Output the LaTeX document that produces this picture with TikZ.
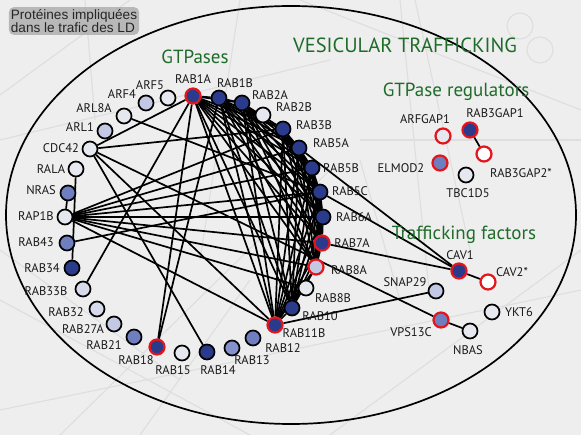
\documentclass[tikz,border=0pt]{standalone}
\usepackage{fontspec}
\setmainfont{PT Sans}
\newfontfamily\arialf{Liberation Sans}
\definecolor{cD}{HTML}{2B3B8C}
\definecolor{cM}{HTML}{6E7EBF}
\definecolor{cM2}{HTML}{8392CC}
\definecolor{cL}{HTML}{C3C9E5}
\definecolor{cL2}{HTML}{D6DAEB}
\definecolor{cW}{HTML}{E6E8F0}
\definecolor{cR}{HTML}{E3141B}
\definecolor{gtxt}{HTML}{1E6B2A}
\definecolor{bgc}{HTML}{EEEEEE}
\pgfdeclarelayer{back}
\pgfdeclarelayer{edges}
\pgfsetlayers{back,edges,main}
\begin{document}
\begin{tikzpicture}[x=1pt,y=-1pt,
 gn/.style={circle,draw=black,line width=1.7pt,minimum size=15pt,inner sep=0pt},
 rn/.style={gn,draw=cR,line width=2.2pt},
 lab/.style={font=\fontsize{12.5}{13}\selectfont,inner sep=0pt,text=black!90},
 ttl/.style={font=\fontsize{19}{21}\selectfont,text=gtxt,inner sep=0pt},
 ed/.style={line width=1.7pt,black},
 bgl/.style={line width=1.1pt,black!13}]
\useasboundingbox (0,0) rectangle (581,435);
% ---------- GTPase nodes ----------
\node[rn,fill=cD] (RAB1A) at (193,96) {};
\node[gn,fill=cD] (RAB1B) at (219,98) {};
\node[gn,fill=cD] (RAB2A) at (242,103) {};
\node[gn,fill=cW] (RAB2B) at (263,115) {};
\node[gn,fill=cD] (RAB3B) at (283,129) {};
\node[gn,fill=cD] (RAB5A) at (299,148) {};
\node[gn,fill=cD] (RAB5B) at (312,168) {};
\node[gn,fill=cD] (RAB5C) at (320,192) {};
\node[gn,fill=cD] (RAB6A) at (323,217) {};
\node[rn,fill=cD] (RAB7A) at (322,243) {};
\node[rn,fill=cL] (RAB8A) at (316,267) {};
\node[gn,fill=cW] (RAB8B) at (306,288) {};
\node[gn,fill=cD] (RAB10) at (292,308) {};
\node[rn,fill=cD] (RAB11B) at (275,325) {};
\node[gn,fill=cM] (RAB12) at (253,338) {};
\node[gn,fill=cM2] (RAB13) at (232,348) {};
\node[gn,fill=cD] (RAB14) at (207,352) {};
\node[gn,fill=cW] (RAB15) at (182,353) {};
\node[rn,fill=cD] (RAB18) at (157,347) {};
\node[gn,fill=cM] (RAB21) at (134,337) {};
\node[gn,fill=cL] (RAB27A) at (114,324) {};
\node[gn,fill=cL2] (RAB32) at (97,309) {};
\node[gn,fill=cL2] (RAB33B) at (83,289) {};
\node[gn,fill=cD] (RAB34) at (72,268) {};
\node[gn,fill=cM] (RAB43) at (67,243) {};
\node[gn,fill=cW] (RAP1B) at (65,217) {};
\node[gn,fill=cM] (NRAS) at (68,193) {};
\node[gn,fill=cW] (RALA) at (76,169) {};
\node[gn,fill=cW] (CDC42) at (90,149) {};
\node[gn,fill=cL] (ARL1) at (105,131) {};
\node[gn,fill=cW] (ARL8A) at (124,116) {};
\node[gn,fill=cL] (ARF4) at (146,103) {};
\node[gn,fill=cW] (ARF5) at (168,98) {};
% labels
\node[lab] (lRAB1A) at (193,79) {RAB1A};
\node[lab] (lRAB1B) at (235,83) {RAB1B};
\node[lab] (lRAB2A) at (270,95) {RAB2A};
\node[lab] (lRAB2B) at (294,107) {RAB2B};
\node[lab] (lRAB3B) at (314,125) {RAB3B};
\node[lab] (lRAB5A) at (331,143) {RAB5A};
\node[lab] (lRAB5B) at (341,168) {RAB5B};
\node[lab] (lRAB5C) at (350,191) {RAB5C};
\node[lab] (lRAB6A) at (354,217) {RAB6A};
\node[lab] (lRAB7A) at (352,243) {RAB7A};
\node[lab] (lRAB8A) at (349,270) {RAB8A};
\node[lab] (lRAB8B) at (333,298) {RAB8B};
\node[lab] (lRAB10) at (320,316) {RAB10};
\node[lab] (lRAB11B) at (304,333) {RAB11B};
\node[lab] (lRAB12) at (283,348) {RAB12};
\node[lab] (lRAB13) at (252,360) {RAB13};
\node[lab] (lRAB14) at (218,370) {RAB14};
\node[lab] (lRAB15) at (173,370) {RAB15};
\node[lab] (lRAB18) at (136,360) {RAB18};
\node[lab] (lRAB21) at (104,345) {RAB21};
\node[lab] (lRAB27A) at (83,329) {RAB27A};
\node[lab] (lRAB32) at (66,312) {RAB32};
\node[lab] (lRAB33B) at (46,291) {RAB33B};
\node[lab] (lRAB34) at (42,268) {RAB34};
\node[lab] (lRAB43) at (36,242) {RAB43};
\node[lab] (lRAP1B) at (36,216) {RAP1B};
\node[lab] (lNRAS) at (41,190) {NRAS};
\node[lab] (lRALA) at (51,169) {RALA};
\node[lab] (lCDC42) at (61,148) {CDC42};
\node[lab] (lARL1) at (80,127) {ARL1};
\node[lab] (lARL8A) at (94,108) {ARL8A};
\node[lab] (lARF4) at (122,94) {ARF4};
\node[lab] (lARF5) at (150,85) {ARF5};
% ---------- GTPase regulators ----------
\node[rn,fill=cW] (ARFGAP1) at (443,136) {};
\node[rn,fill=cD] (RAB3GAP1) at (470,130) {};
\node[rn,fill=white] (RAB3GAP2) at (484,154) {};
\node[rn,fill=cM] (ELMOD2) at (440,163) {};
\node[gn,fill=cW] (TBC1D5) at (466,175) {};
\node[lab] (lARFGAP1) at (425,119) {ARFGAP1};
\node[lab] (lRAB3GAP1) at (495,113) {RAB3GAP1};
\node[lab] (lRAB3GAP2) at (521,173) {RAB3GAP2*};
\node[lab] (lELMOD2) at (401,168) {ELMOD2};
\node[lab] (lTBC1D5) at (468,193) {TBC1D5};
% ---------- Trafficking factors ----------
\node[rn,fill=cD] (CAV1) at (459,271) {};
\node[rn,fill=white] (CAV2) at (488,282) {};
\node[gn,fill=cL] (SNAP29) at (436,291) {};
\node[rn,fill=cM] (VPS13C) at (441,320) {};
\node[gn,fill=cW] (NBAS) at (470,331) {};
\node[gn,fill=cW] (YKT6) at (492,312) {};
\node[lab] (lCAV1) at (460,255) {CAV1};
\node[lab] (lCAV2) at (512,272) {CAV2*};
\node[lab] (lSNAP29) at (405,282) {SNAP29};
\node[lab] (lVPS13C) at (411,332) {VPS13C};
\node[lab] (lNBAS) at (468,350) {NBAS};
\node[lab] (lYKT6) at (519,312) {YKT6};
% ---------- titles ----------
\node[ttl] (tGTP) at (195,57) {GTPases};
\node[ttl,font=\fontsize{20.5}{22}\selectfont] (tVES) at (405,45) {VESICULAR TRAFFICKING};
\node[ttl] (tREG) at (456,92) {GTPase regulators};
\node[ttl] (tTRA) at (464,235) {Trafficking factors};
\node[font=\arialf\fontsize{13.6}{12.5}\selectfont,align=left,inner sep=2pt,
      fill=black!35,fill opacity=0.75,text opacity=1,rounded corners=5pt,text=black!85]
      (tLD) at (74,21) {Protéines impliquées\\dans le trafic des LD};
% ---------- background ----------
\begin{pgfonlayer}{back}
\fill[bgc] (0,0) rectangle (581,435);
\draw[bgl] (0,95) -- (130,0);
\draw[bgl] (85,0) -- (95,120);
\draw[bgl] (0,410) -- (581,290);
\draw[bgl] (60,435) -- (330,170);
\draw[bgl] (400,0) -- (430,300);
\draw[bgl] (415,0) -- (470,250);
\draw[bgl] (0,300) -- (250,435);
\draw[bgl] (330,435) -- (581,250);
\draw[bgl] (0,140) -- (330,60);
\draw[bgl] (240,0) -- (200,260);
\draw[bgl] (360,140) -- (581,140);
\draw[bgl] (360,160) -- (400,300);
\draw[bgl] (140,435) -- (250,280);
\draw[bgl] (0,250) -- (180,380);
\draw[bgl] (300,0) -- (581,110);
\draw[bgl] (520,26) circle (13pt);
\draw[bgl] (540,50) circle (13pt);
\draw[line width=1.7pt] (291,215) ellipse [x radius=285pt, y radius=209pt];
\end{pgfonlayer}
% ---------- edges ----------
\begin{pgfonlayer}{edges}
\def\clq{RAB1A,RAB1B,RAB2A,RAB3B,RAB5A,RAB5B,RAB5C,RAB6A,RAB7A,RAB8A,RAB10,RAB11B}
\foreach \a [count=\i] in \clq {
  \foreach \b [count=\j] in \clq {
    \ifnum\j>\i \draw[ed] (\a) -- (\b); \fi
  }
}
\draw[ed] (NRAS) -- (RAP1B);
\draw[ed] (RALA) -- (RAB34);
\foreach \t in {RAB1A,RAB3B,RAB11B,RAB14,VPS13C} \draw[ed] (CDC42) -- (\t);
\draw[ed] (ARL8A) -- (RAB5C);
\draw[ed] (RAB33B) -- (RAB1A);
\draw[ed] (RAB43) -- (RAB5C);
\draw[ed] (RAB18) -- (RAB1A);
\draw[ed] (RAB18) -- (RAB1B);
\foreach \t in {RAB3B,RAB5A,RAB5B,RAB5C,RAB6A,RAB7A,RAB8A,RAB8B,RAB11B} \draw[ed] (RAP1B) -- (\t);
\draw[ed] (RAB5A) -- (CAV1);
\draw[ed] (RAB5C) -- (CAV1);
\draw[ed] (RAB7A) -- (CAV1);
\draw[ed] (SNAP29) -- (RAB11B);
\draw[ed] (CAV1) -- (CAV2);
\draw[ed] (VPS13C) -- (NBAS);
\draw[ed] (RAB3GAP1) -- (RAB3GAP2);
\end{pgfonlayer}
\end{tikzpicture}
\end{document}
